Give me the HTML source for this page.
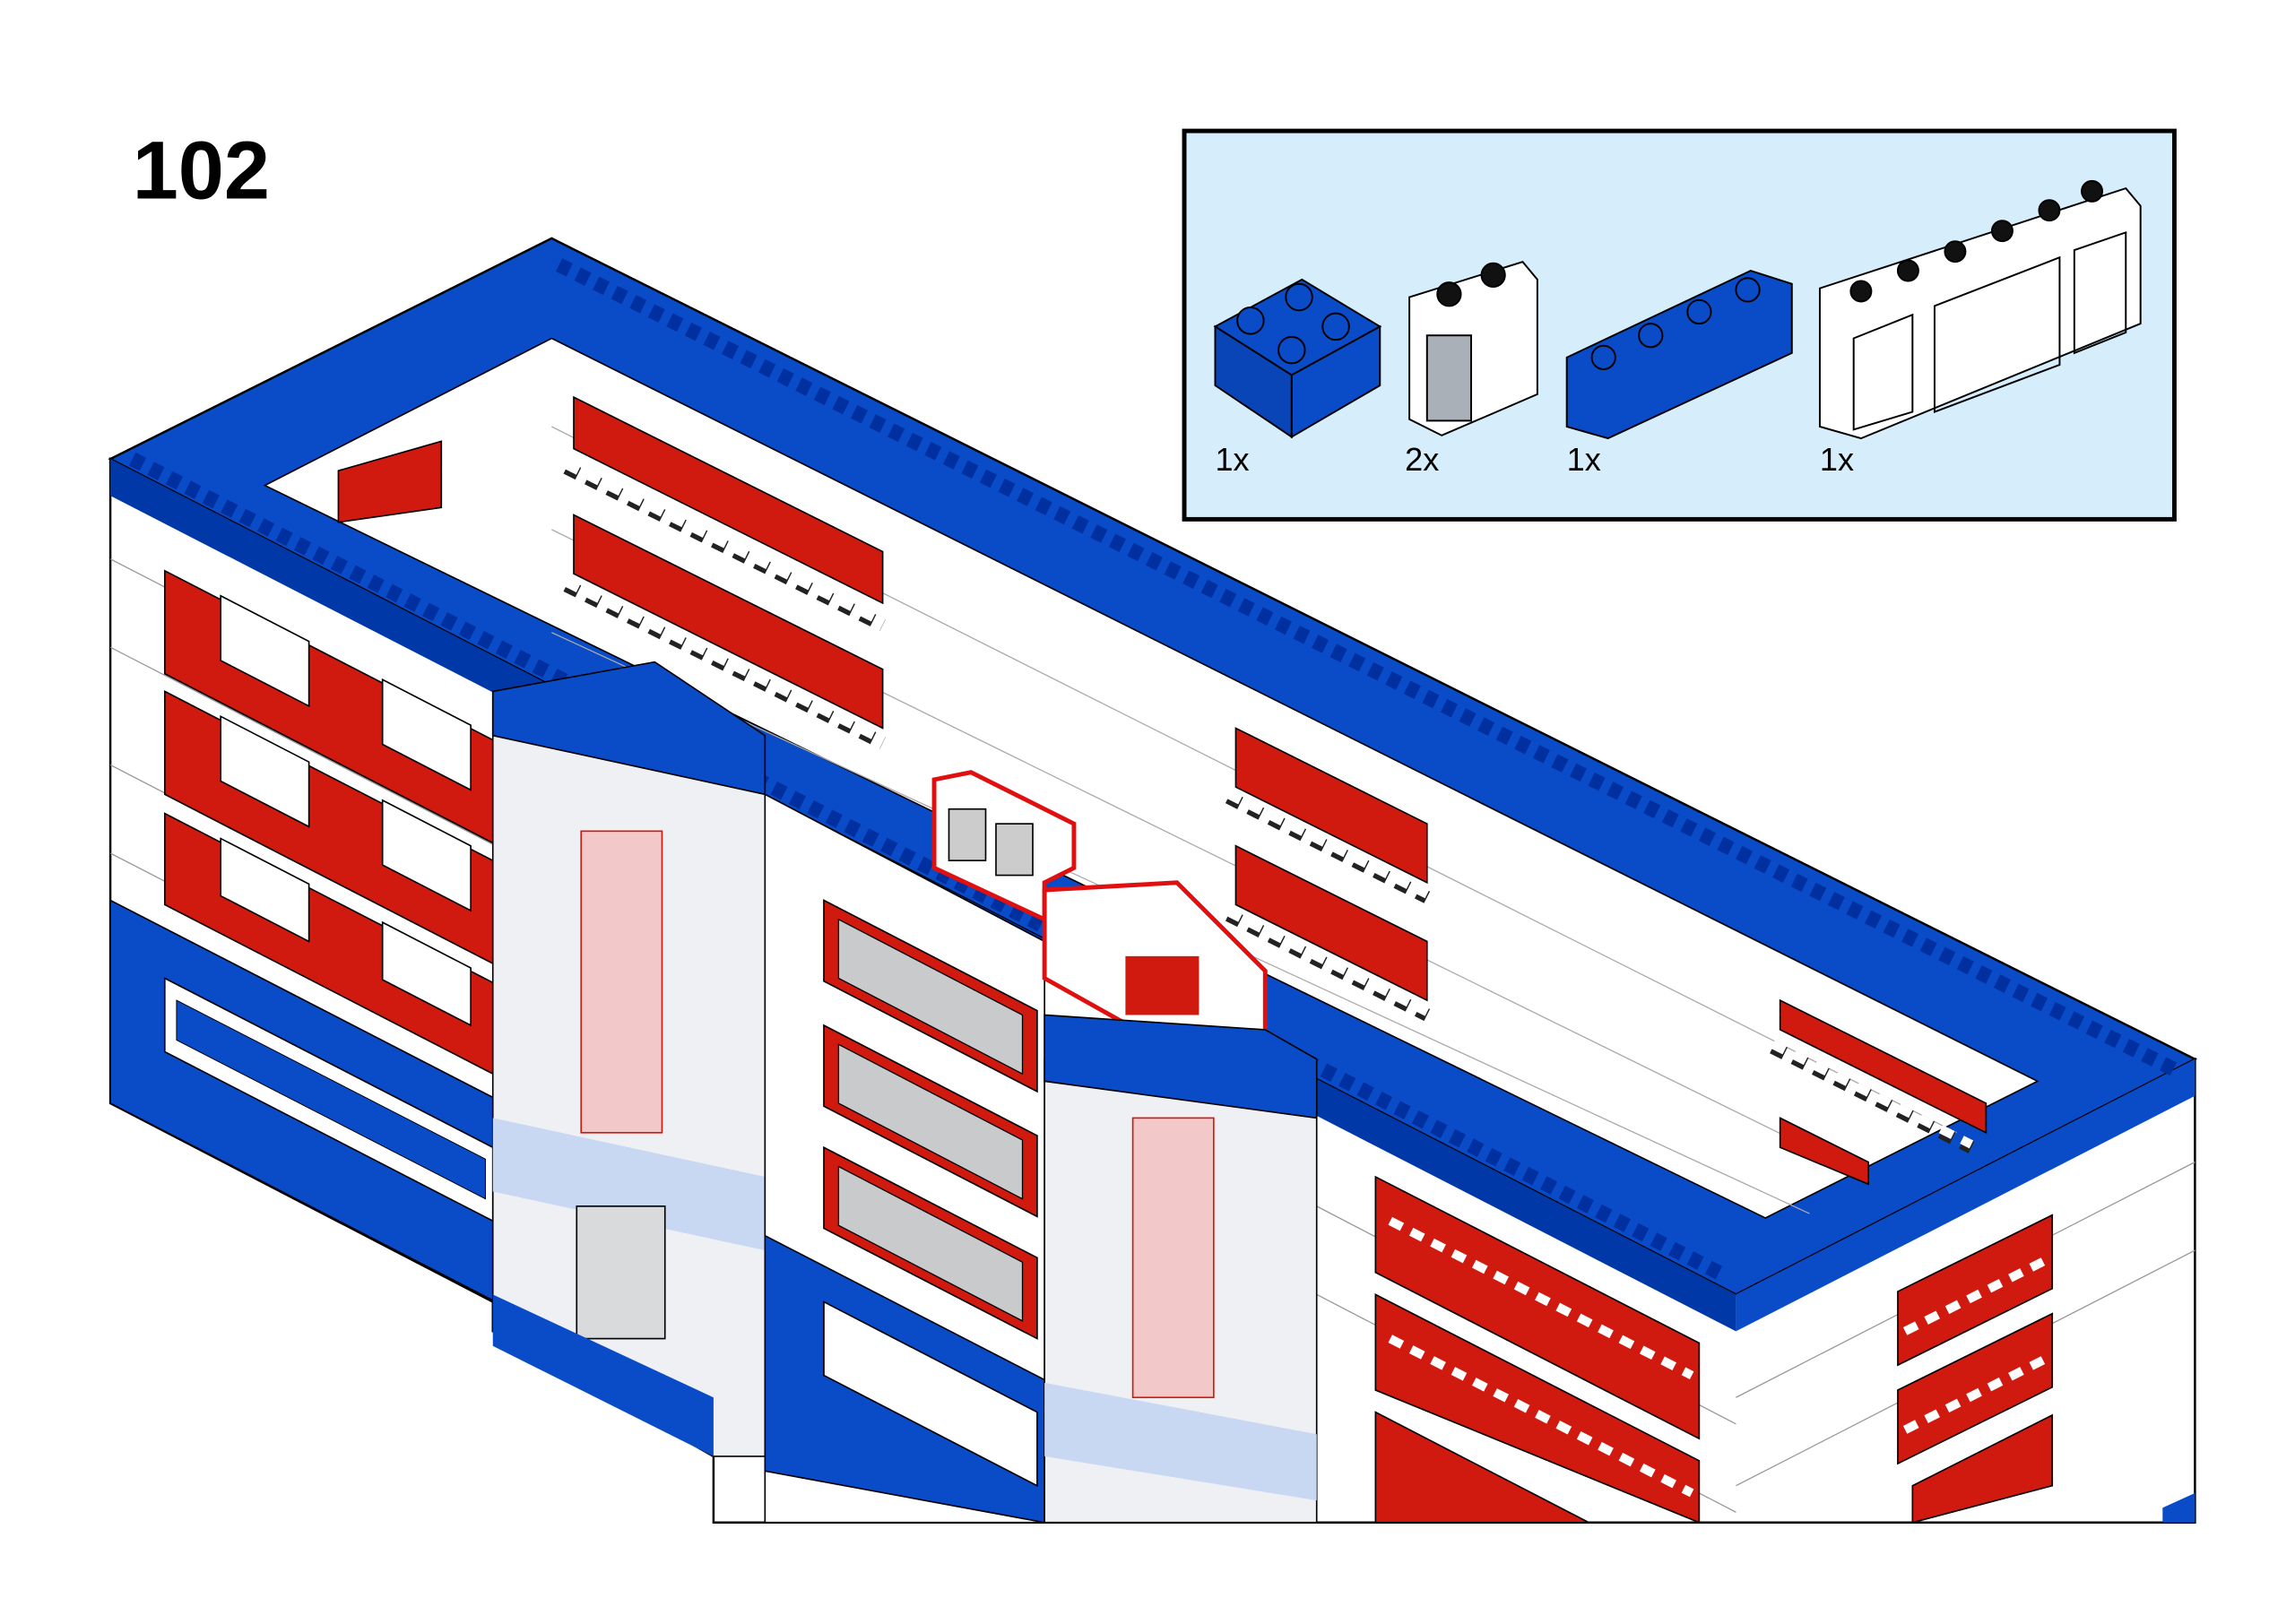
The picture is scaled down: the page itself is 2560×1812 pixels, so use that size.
<!DOCTYPE html>
<html><head><meta charset="utf-8"><style>
html,body{margin:0;padding:0;background:#fff}
svg{display:block}
text{font-family:"Liberation Sans",sans-serif}
</style></head><body>
<svg width="2560" height="1812" viewBox="0 0 1560 1104" preserveAspectRatio="none" xmlns="http://www.w3.org/2000/svg">
<rect width="1560" height="1104" fill="#fff"/>
<text x="90" y="135" font-size="56" font-weight="bold">102</text>

<!-- parts panel -->
<rect x="805" y="89" width="673" height="264" fill="#d6eefb" stroke="#000" stroke-width="3"/>
<g stroke="#000" stroke-width="1.2">
 <polygon points="826,222 885,190 938,222 878,255" fill="#0a4cc8"/>
 <polygon points="826,222 878,255 878,297 826,262" fill="#0a45b8"/>
 <polygon points="878,255 938,222 938,262 878,297" fill="#0a4cc8"/>
 <circle cx="850" cy="218" r="9" fill="#0a4cc8"/><circle cx="883" cy="202" r="9" fill="#0a4cc8"/>
 <circle cx="878" cy="238" r="9" fill="#0a4cc8"/><circle cx="908" cy="222" r="9" fill="#0a4cc8"/>
 <polygon points="958,202 1035,178 1045,190 1045,268 980,296 958,285" fill="#fff"/>
 <rect x="970" y="228" width="30" height="58" fill="#aab0b8"/>
 <circle cx="985" cy="200" r="8" fill="#111"/><circle cx="1015" cy="187" r="8" fill="#111"/>
 <polygon points="1065,243 1190,184 1218,193 1218,240 1093,298 1065,290" fill="#0a4cc8"/>
 <circle cx="1090" cy="243" r="8" fill="#0a4cc8"/><circle cx="1122" cy="228" r="8" fill="#0a4cc8"/>
 <circle cx="1155" cy="212" r="8" fill="#0a4cc8"/><circle cx="1188" cy="197" r="8" fill="#0a4cc8"/>
 <polygon points="1237,196 1445,128 1455,140 1455,220 1265,298 1237,290" fill="#fff"/>
 <polygon points="1260,230 1300,214 1300,280 1260,292" fill="none"/>
 <polygon points="1315,208 1400,175 1400,248 1315,280" fill="none"/>
 <polygon points="1410,170 1445,158 1445,226 1410,240" fill="none"/>
 <circle cx="1265" cy="198" r="7" fill="#111"/><circle cx="1297" cy="184" r="7" fill="#111"/>
 <circle cx="1329" cy="171" r="7" fill="#111"/><circle cx="1361" cy="157" r="7" fill="#111"/>
 <circle cx="1393" cy="143" r="7" fill="#111"/><circle cx="1422" cy="130" r="7" fill="#111"/>
</g>
<text x="826" y="320" font-size="22">1x</text>
<text x="955" y="320" font-size="22">2x</text>
<text x="1065" y="320" font-size="22">1x</text>
<text x="1237" y="320" font-size="22">1x</text>

<!-- building walls -->
<polygon points="75,312 1180,880 1492,720 1492,1035 485,1035 485,990 335,905 335,885 75,750" fill="#fff" stroke="#000" stroke-width="1.5"/>
<g stroke="#999" stroke-width="0.8">
 <line x1="75" y1="380" x2="335" y2="514"/><line x1="75" y1="440" x2="335" y2="574"/>
 <line x1="75" y1="520" x2="335" y2="654"/><line x1="75" y1="580" x2="335" y2="714"/>
 <line x1="895" y1="820" x2="1180" y2="968"/><line x1="895" y1="880" x2="1180" y2="1028"/>
 <line x1="1180" y1="950" x2="1492" y2="790"/><line x1="1180" y1="1010" x2="1492" y2="850"/>
</g>
<!-- roof -->
<polygon points="75,312 375,162 1492,720 1180,880" fill="#0a4cc8" stroke="#000" stroke-width="1.5"/>
<polygon points="75,312 1180,880 1180,905 75,337" fill="#0038a8"/>
<polygon points="1180,880 1492,720 1492,745 1180,905" fill="#0a4cc8"/>
<polygon points="180,330 375,230 1385,735 1200,828" fill="#fff" stroke="#000"/>
<g stroke="#aaa" stroke-width="0.8">
 <line x1="375" y1="290" x2="1330" y2="770"/><line x1="375" y1="360" x2="1270" y2="800"/>
 <line x1="375" y1="430" x2="1230" y2="825"/>
</g>
<g fill="#d01a10" stroke="#000" stroke-width="1">
 <polygon points="390,270 600,375 600,410 390,305"/>
 <polygon points="390,350 600,455 600,495 390,390"/>
 <polygon points="840,495 970,560 970,600 840,535"/>
 <polygon points="840,575 970,640 970,680 840,615"/>
 <polygon points="1210,680 1350,750 1350,770 1210,700"/>
 <polygon points="1210,760 1270,790 1270,805 1210,780"/>
 <polygon points="230,320 300,300 300,345 230,355"/>
</g>
<g stroke="#222" stroke-width="9" stroke-dasharray="9 7" fill="none">
 <line x1="385" y1="318" x2="600" y2="425"/>
 <line x1="385" y1="398" x2="600" y2="505"/>
 <line x1="835" y1="542" x2="970" y2="610"/>
 <line x1="835" y1="622" x2="970" y2="690"/>
 <line x1="1205" y1="712" x2="1340" y2="780"/>
</g>
<g stroke="#fff" stroke-width="6" stroke-dasharray="9 7" fill="none">
 <line x1="385" y1="316" x2="600" y2="423"/>
 <line x1="385" y1="396" x2="600" y2="503"/>
 <line x1="835" y1="540" x2="970" y2="608"/>
 <line x1="835" y1="620" x2="970" y2="688"/>
 <line x1="1205" y1="710" x2="1340" y2="778"/>
</g>
<g fill="none">
 <line x1="90" y1="312" x2="1170" y2="866" stroke="#0030a0" stroke-width="10" stroke-dasharray="8 6"/>
 <line x1="380" y1="180" x2="1480" y2="728" stroke="#0030a0" stroke-width="10" stroke-dasharray="8 6"/>
</g>

<!-- left blue band -->
<polygon points="75,612 335,746 335,884 75,750" fill="#0a4cc8" stroke="#000"/>
<g fill="#d01a10" stroke="#000" stroke-width="1">
 <polygon points="112,388 335,503 335,573 112,458"/>
 <polygon points="112,470 335,585 335,655 112,540"/>
 <polygon points="112,553 335,668 335,730 112,615"/>
</g>
<g fill="#fff" stroke="#000" stroke-width="1">
 <polygon points="150,405 210,436 210,480 150,449"/><polygon points="260,462 320,493 320,537 260,506"/>
 <polygon points="150,487 210,518 210,562 150,531"/><polygon points="260,544 320,575 320,619 260,588"/>
 <polygon points="150,570 210,601 210,640 150,609"/><polygon points="260,627 320,658 320,697 260,666"/>
</g>
<polygon points="112,665 335,780 335,830 112,715" fill="#fff" stroke="#000"/>
<polygon points="120,680 330,788 330,815 120,707" fill="#0a4cc8" stroke="#000" stroke-width="0.6"/>

<!-- tower 1 -->
<polygon points="335,470 445,470 520,540 520,990 485,990 335,905" fill="#eef0f3" stroke="#000"/>
<polygon points="335,470 445,450 520,500 520,540 335,500" fill="#0a4cc8" stroke="#000"/>
<polygon points="335,760 520,800 520,850 335,810" fill="#c9d8f2"/>
<rect x="395" y="565" width="55" height="205" fill="#f2c8c8" stroke="#d01a10"/>
<rect x="392" y="820" width="60" height="90" fill="#d8dadc" stroke="#000"/>
<polygon points="335,880 485,950 485,990 335,915" fill="#0a4cc8"/>

<!-- middle wall -->
<polygon points="520,540 710,640 710,1035 520,1035" fill="#fff" stroke="#000"/>
<polygon points="520,840 710,938 710,1035 520,1000" fill="#0a4cc8" stroke="#000"/>
<g fill="#d01a10" stroke="#000">
 <polygon points="560,612 705,687 705,742 560,667"/>
 <polygon points="560,697 705,772 705,827 560,752"/>
 <polygon points="560,780 705,855 705,910 560,835"/>
</g>
<g fill="#c8cacc" stroke="#000" stroke-width="0.8">
 <polygon points="570,625 695,690 695,730 570,665"/><polygon points="570,710 695,775 695,815 570,750"/>
 <polygon points="570,793 695,858 695,898 570,833"/>
</g>
<polygon points="560,885 705,960 705,1010 560,935" fill="#fff" stroke="#000"/>

<!-- highlighted new parts -->
<polygon points="635,530 660,525 730,560 730,590 710,600 710,625 635,590" fill="#fff" stroke="#e01010" stroke-width="3"/>
<rect x="645" y="550" width="25" height="35" fill="#ccc" stroke="#000"/><rect x="677" y="560" width="25" height="35" fill="#ccc" stroke="#000"/>
<polygon points="710,605 800,600 860,660 860,730 835,735 710,665" fill="#fff" stroke="#e01010" stroke-width="3"/>
<rect x="765" y="650" width="50" height="40" fill="#d01a10"/>

<!-- tower 2 -->
<polygon points="710,720 860,740 895,740 895,1035 710,1035" fill="#eef0f3" stroke="#000"/>
<polygon points="710,690 860,700 895,720 895,760 710,735" fill="#0a4cc8" stroke="#000"/>
<polygon points="710,940 895,975 895,1020 710,990" fill="#c9d8f2"/>
<rect x="770" y="760" width="55" height="190" fill="#f2c8c8" stroke="#d01a10"/>

<!-- right wing windows -->
<g fill="#d01a10" stroke="#000">
 <polygon points="935,800 1155,913 1155,978 935,865"/>
 <polygon points="935,880 1155,993 1155,1035 935,945"/>
 <polygon points="935,960 1080,1035 935,1035"/>
 <polygon points="1290,878 1395,826 1395,876 1290,928"/>
 <polygon points="1290,945 1395,893 1395,943 1290,995"/>
 <polygon points="1300,1010 1395,962 1395,1010 1300,1035"/>
</g>
<g stroke="#fff" stroke-width="6" stroke-dasharray="9 7" fill="none">
 <line x1="945" y1="830" x2="1150" y2="935"/><line x1="945" y1="910" x2="1150" y2="1015"/>
 <line x1="1295" y1="905" x2="1390" y2="857"/><line x1="1295" y1="972" x2="1390" y2="924"/>
</g>
<polygon points="1470,1025 1492,1015 1492,1035 1470,1035" fill="#0a4cc8"/>
<rect x="0" y="1036" width="1560" height="68" fill="#fff"/>
</svg>
</body></html>
